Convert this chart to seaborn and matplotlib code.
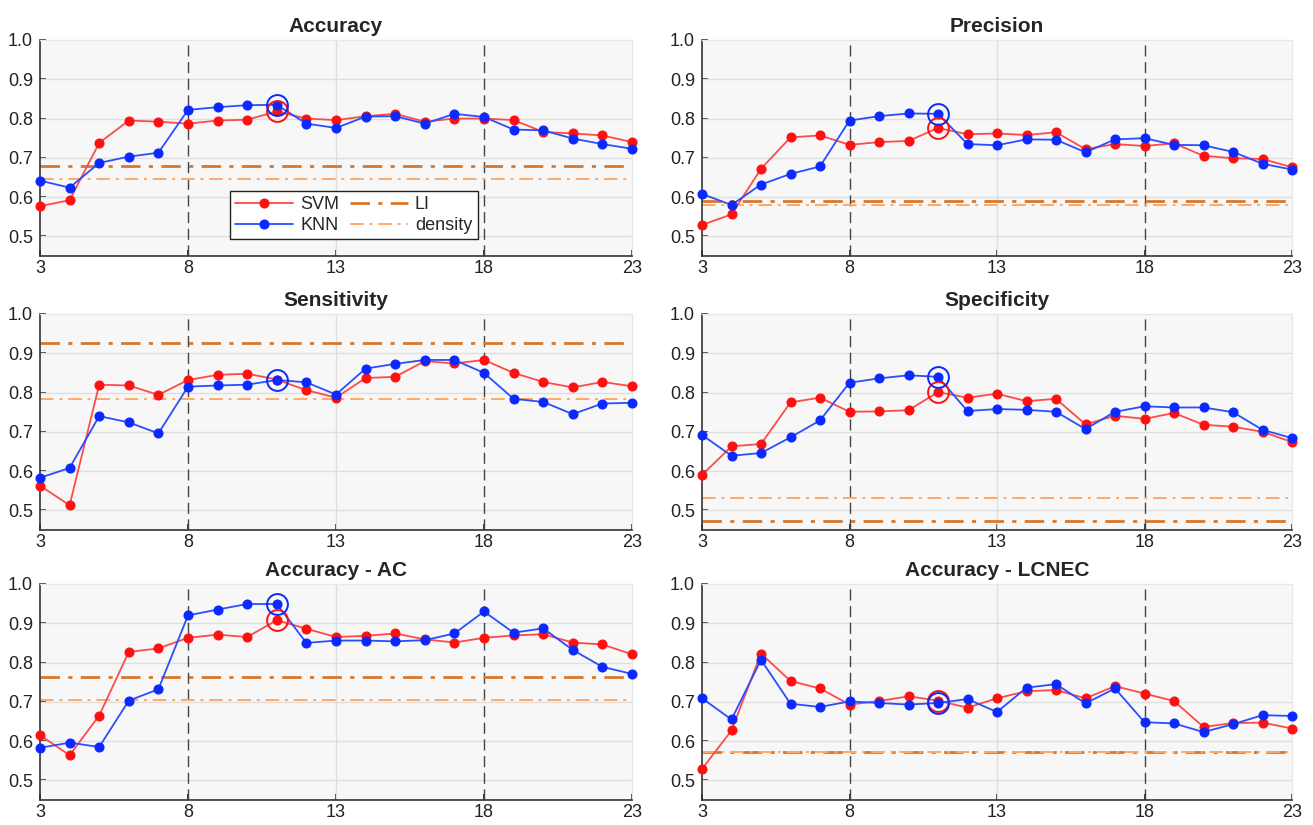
import numpy as np
import pandas as pd
import matplotlib

matplotlib.use('Agg')
import matplotlib.pyplot as plt
import seaborn as sns

# number of features on the x axis
k = list(range(3, 24))

titles = ['Accuracy', 'Precision', 'Sensitivity', 'Specificity',
          'Accuracy - AC', 'Accuracy - LCNEC']

svm_acc = [0.577, 0.592, 0.738, 0.795, 0.792, 0.787, 0.795, 0.797, 0.818, 0.800, 0.796,
           0.806, 0.812, 0.792, 0.800, 0.800, 0.796, 0.766, 0.762, 0.757, 0.740]
knn_acc = [0.642, 0.624, 0.687, 0.703, 0.713, 0.822, 0.829, 0.834, 0.835, 0.787, 0.776,
           0.805, 0.806, 0.787, 0.812, 0.804, 0.772, 0.770, 0.749, 0.735, 0.723]

svm_prec = [0.529, 0.556, 0.672, 0.752, 0.757, 0.733, 0.740, 0.743, 0.776, 0.760, 0.762,
            0.758, 0.765, 0.722, 0.735, 0.730, 0.737, 0.705, 0.699, 0.697, 0.676]
knn_prec = [0.608, 0.580, 0.632, 0.659, 0.678, 0.795, 0.806, 0.813, 0.812, 0.735, 0.732,
            0.747, 0.746, 0.714, 0.747, 0.750, 0.733, 0.732, 0.715, 0.685, 0.670]

svm_sens = [0.563, 0.513, 0.820, 0.818, 0.794, 0.832, 0.845, 0.848, 0.833, 0.806, 0.787,
            0.837, 0.840, 0.880, 0.874, 0.883, 0.850, 0.827, 0.813, 0.827, 0.816]
knn_sens = [0.583, 0.608, 0.740, 0.724, 0.696, 0.815, 0.818, 0.820, 0.832, 0.826, 0.795,
            0.861, 0.873, 0.883, 0.883, 0.850, 0.784, 0.776, 0.745, 0.772, 0.774]

svm_spec = [0.590, 0.663, 0.669, 0.775, 0.787, 0.751, 0.752, 0.755, 0.801, 0.787, 0.797,
            0.778, 0.784, 0.719, 0.741, 0.733, 0.748, 0.718, 0.713, 0.700, 0.674]
knn_spec = [0.692, 0.639, 0.646, 0.686, 0.729, 0.825, 0.836, 0.844, 0.840, 0.753, 0.758,
            0.756, 0.751, 0.707, 0.751, 0.765, 0.762, 0.762, 0.750, 0.705, 0.684]

svm_ac = [0.615, 0.564, 0.665, 0.827, 0.836, 0.863, 0.871, 0.865, 0.908, 0.886, 0.865,
          0.868, 0.874, 0.859, 0.851, 0.863, 0.869, 0.872, 0.851, 0.846, 0.821]
knn_ac = [0.583, 0.596, 0.585, 0.703, 0.732, 0.920, 0.935, 0.949, 0.949, 0.850, 0.856,
          0.856, 0.854, 0.857, 0.874, 0.930, 0.876, 0.887, 0.832, 0.789, 0.771]

svm_lc = [0.529, 0.627, 0.823, 0.753, 0.734, 0.693, 0.702, 0.714, 0.703, 0.685, 0.709,
          0.727, 0.730, 0.709, 0.740, 0.721, 0.702, 0.636, 0.646, 0.647, 0.632]
knn_lc = [0.709, 0.655, 0.807, 0.695, 0.687, 0.701, 0.697, 0.693, 0.697, 0.707, 0.674,
          0.736, 0.745, 0.696, 0.734, 0.648, 0.645, 0.623, 0.643, 0.666, 0.664]

svm_all = [svm_acc, svm_prec, svm_sens, svm_spec, svm_ac, svm_lc]
knn_all = [knn_acc, knn_prec, knn_sens, knn_spec, knn_ac, knn_lc]

# baselines from single features
li_ref = [0.679, 0.591, 0.927, 0.472, 0.764, 0.571]
density_ref = [0.645, 0.581, 0.784, 0.532, 0.705, 0.571]

# chosen model (k = 11), which rings are drawn per panel
best_k = 11
ring_svm = [True, True, False, True, True, True]
ring_knn = [True, True, True, True, True, True]

# --- style ---
sns.set_theme(style='white')
plt.rcParams['font.family'] = ['Liberation Sans', 'DejaVu Sans']

RED_LINE, RED_DOT = '#ff4a4a', '#ff1010'
BLUE_LINE, BLUE_DOT = '#2a4dff', '#0a28ff'
LI_COL, DEN_COL = '#d8782c', '#ffa868'

fig = plt.figure(figsize=(13.13, 8.25), dpi=100)
lefts = [40 / 1313, 702 / 1313]
widths = [592 / 1313, 590 / 1313]
bottoms = [1 - 256 / 825, 1 - 530 / 825, 1 - 800 / 825]
height = 216 / 825

for i, title in enumerate(titles):
    row, col = divmod(i, 2)
    ax = fig.add_axes([lefts[col], bottoms[row], widths[col], height])
    ax.set_facecolor('#f7f7f7')

    df = pd.DataFrame({'k': k, 'SVM': svm_all[i], 'KNN': knn_all[i]})

    ax.axhline(li_ref[i], color=LI_COL, lw=2.0, ls=(0, (7, 3, 1.5, 3)), label='LI', zorder=2)
    ax.axhline(density_ref[i], color=DEN_COL, lw=1.4, ls=(0, (7, 3, 1.5, 3)), label='density', zorder=2)

    sns.lineplot(data=df, x='k', y='SVM', ax=ax, color=RED_LINE, lw=1.3, marker='o',
                 markersize=6.5, markerfacecolor=RED_DOT, markeredgecolor=RED_DOT,
                 label='SVM', zorder=4, clip_on=False)
    sns.lineplot(data=df, x='k', y='KNN', ax=ax, color=BLUE_LINE, lw=1.3, marker='o',
                 markersize=6.5, markerfacecolor=BLUE_DOT, markeredgecolor=BLUE_DOT,
                 label='KNN', zorder=5, clip_on=False)

    idx = k.index(best_k)
    if ring_svm[i]:
        ax.plot(best_k, svm_all[i][idx], 'o', ms=15, mfc='none', mec=RED_DOT, mew=1.4, zorder=6)
    if ring_knn[i]:
        ax.plot(best_k, knn_all[i][idx], 'o', ms=15, mfc='none', mec=BLUE_DOT, mew=1.4, zorder=6)

    # grid and separators
    for yv in [0.5, 0.6, 0.7, 0.8, 0.9]:
        ax.axhline(yv, color='#dedede', lw=1.0, zorder=1)
    ax.axvline(13, color='#dedede', lw=1.0, zorder=1)
    for xv in [8, 18]:
        ax.axvline(xv, color='#444444', lw=1.0, ls=(0, (8, 4)), zorder=1)

    ax.set_xlim(3, 23)
    ax.set_ylim(0.45, 1.0)
    ax.set_xticks([3, 8, 13, 18, 23])
    ax.set_yticks([0.5, 0.6, 0.7, 0.8, 0.9, 1.0])
    ax.set_yticklabels(['0.5', '0.6', '0.7', '0.8', '0.9', '1.0'])
    ax.tick_params(axis='both', direction='in', length=4, labelsize=13, colors='#222222',
                   left=True, bottom=True)
    ax.tick_params(axis='x', pad=3)
    ax.tick_params(axis='y', pad=5)
    ax.set_xlabel('')
    ax.set_ylabel('')
    ax.set_title(title, fontsize=15, fontweight='bold', pad=6)

    for side in ['top', 'right']:
        ax.spines[side].set_color('#e8e8e8')
        ax.spines[side].set_linewidth(1.0)
    for side in ['left', 'bottom']:
        ax.spines[side].set_color('#333333')
        ax.spines[side].set_linewidth(1.2)

    leg = ax.get_legend()
    if leg is not None:
        leg.remove()

    if i == 0:
        handles, labels = ax.get_legend_handles_labels()
        order = [labels.index(n) for n in ['SVM', 'KNN', 'LI', 'density']]
        leg = ax.legend([handles[j] for j in order], [labels[j] for j in order],
                        ncol=2, loc='lower left', bbox_to_anchor=(0.305, 0.035),
                        fontsize=13, frameon=True, fancybox=False, handlelength=3.2,
                        columnspacing=0.6, handletextpad=0.4, labelspacing=0.2,
                        borderpad=0.3)
        leg.get_frame().set_edgecolor('#222222')
        leg.get_frame().set_linewidth(1.0)
        leg.get_frame().set_facecolor('white')
        leg.get_frame().set_alpha(1.0)

fig.savefig('out.png', dpi=100)
plt.close(fig)
